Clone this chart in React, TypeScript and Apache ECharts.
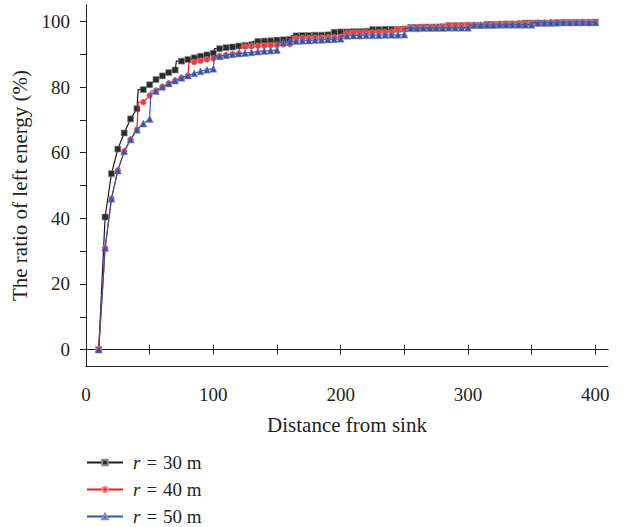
import React, { useEffect, useRef } from "react";
import * as echarts from "echarts";

const distances = [
  10, 15, 20, 25, 30, 35, 40, 45, 50, 55, 60, 65, 70, 75, 80, 85, 90, 95, 100,
  105, 110, 115, 120, 125, 130, 135, 140, 145, 150, 155, 160, 165, 170, 175, 180,
  185, 190, 195, 200, 205, 210, 215, 220, 225, 230, 235, 240, 245, 250, 255, 260,
  265, 270, 275, 280, 285, 290, 295, 300, 305, 310, 315, 320, 325, 330, 335, 340,
  345, 350, 355, 360, 365, 370, 375, 380, 385, 390, 395, 400,
];

const r30 = [
  0, 40.4, 53.6, 61.1, 66.0, 70.3, 73.4, 79.2, 80.7, 82.3, 83.4, 84.4, 85.2, 87.9,
  88.4, 88.9, 89.4, 89.8, 90.3, 91.7, 92.0, 92.2, 92.5, 92.7, 92.9, 93.9, 94.0,
  94.1, 94.3, 94.4, 94.5, 95.6, 95.7, 95.7, 95.8, 95.8, 95.9, 96.7, 96.8, 96.8,
  96.9, 96.9, 97.0, 97.5, 97.5, 97.6, 97.6, 97.6, 97.7, 98.2, 98.2, 98.3, 98.3,
  98.3, 98.4, 98.7, 98.7, 98.7, 98.8, 98.8, 98.8, 99.1, 99.1, 99.1, 99.2, 99.2,
  99.2, 99.5, 99.5, 99.5, 99.5, 99.5, 99.6, 99.7, 99.7, 99.7, 99.7, 99.7, 99.8,
];

const r40 = [
  0, 31.0, 46.0, 54.6, 60.4, 64.0, 67.0, 75.4, 77.4, 78.9, 80.1, 81.1, 82.0, 82.8,
  83.5, 87.6, 88.0, 88.4, 88.7, 89.4, 89.7, 90.0, 90.2, 92.3, 92.4, 92.5, 92.6,
  92.7, 92.8, 93.0, 93.1, 94.8, 94.9, 94.9, 95.0, 95.0, 95.1, 95.1, 95.2, 96.4,
  96.5, 96.5, 96.6, 96.6, 96.7, 96.7, 96.8, 97.6, 97.7, 98.1, 98.1, 98.2, 98.2,
  98.2, 98.3, 98.8, 98.8, 98.8, 98.9, 98.9, 98.9, 98.9, 99.0, 99.3, 99.3, 99.3,
  99.4, 99.4, 99.4, 99.4, 99.4, 99.7, 99.7, 99.7, 99.7, 99.7, 99.8, 99.8, 99.8,
];

const r50 = [
  0, 31.0, 46.0, 54.6, 60.4, 64.0, 67.0, 68.9, 70.3, 78.8, 80.1, 81.1, 82.0, 82.8,
  83.5, 84.2, 84.8, 85.3, 85.6, 89.4, 89.7, 90.0, 90.2, 90.4, 90.6, 90.8, 91.0,
  91.1, 91.3, 93.6, 93.8, 94.0, 94.1, 94.2, 94.3, 94.4, 94.5, 94.6, 94.7, 95.6,
  95.7, 95.7, 95.8, 95.8, 95.8, 95.9, 95.9, 95.9, 96.0, 97.9, 97.9, 98.0, 98.0,
  98.0, 98.0, 98.1, 98.1, 98.1, 98.1, 98.9, 98.9, 98.9, 98.9, 99.0, 99.0, 99.0,
  99.0, 99.0, 99.0, 99.6, 99.6, 99.6, 99.6, 99.7, 99.7, 99.7, 99.7, 99.7, 99.7,
];

// distances after which the curve rises abruptly
const r30Jumps = [40, 70, 100, 130, 160, 190, 220, 250, 280, 310, 340, 370];
const r40Jumps = [40, 80, 120, 160, 200, 240, 280, 320, 360];
const r50Jumps = [50, 100, 150, 200, 250, 300, 350];

const seriesNames = ["r = 30 m", "r = 40 m", "r = 50 m"];
const yTicks = [0, 10, 20, 30, 40, 50, 60, 70, 80, 90, 100];
const yLabels = [0, 20, 40, 60, 80, 100];
const xTicks = [0, 50, 100, 150, 200, 250, 300, 350, 400];
const xLabels = [0, 100, 200, 300, 400];

const FONT = "'Liberation Serif', 'DejaVu Serif', serif";
const INK = "#231f20";

function buildData(vals: number[], jumps: number[]) {
  const out: any[] = [];
  distances.forEach((d, i) => {
    out.push({ value: [d, vals[i]] });
    if (jumps.includes(d) && i + 1 < vals.length) {
      out.push({ value: [d + 1, vals[i + 1]], symbol: "none" });
    }
  });
  return out;
}

export default function App() {
  const ref = useRef<HTMLDivElement>(null);
  useEffect(() => {
    document.body.style.margin = "0";
    if (!ref.current) return;
    const chart = echarts.init(ref.current, undefined, { renderer: "svg" });
    const axisLineStyle = { color: INK, width: 1 };
    const option: any = {
      animation: false,
      backgroundColor: "#ffffff",
      textStyle: { fontFamily: FONT, color: INK },
      grid: { left: 86, right: 20, top: 5, bottom: 161, containLabel: false },
      legend: {
        orient: "vertical",
        left: 86,
        top: 453,
        height: 74,
        itemWidth: 36,
        itemHeight: 7,
        itemGap: 8,
        padding: 0,
        data: seriesNames,
        formatter: (n: string) => {
          const parts = n.split(" = ");
          return "{i|r}{s|=}" + parts[1];
        },
        textStyle: {
          fontFamily: FONT,
          fontSize: 19,
          lineHeight: 18,
          color: INK,
          padding: [0, 0, 0, 5],
          rich: {
            i: { fontFamily: FONT, fontStyle: "italic", fontSize: 19, lineHeight: 18, color: INK },
            s: { fontFamily: FONT, fontSize: 19, lineHeight: 18, color: INK, padding: [0, 6, 0, 6] },
          },
        },
      },
      xAxis: [
        {
          type: "value",
          position: "bottom",
          offset: 6,
          min: 0,
          max: 410,
          name: "Distance from sink",
          nameLocation: "middle",
          nameGap: 42,
          nameTextStyle: { fontFamily: FONT, fontSize: 21, color: INK },
          axisLine: { show: true, lineStyle: axisLineStyle },
          axisTick: { show: true, inside: true, length: 5, customValues: xTicks, lineStyle: axisLineStyle },
          axisLabel: { show: true, customValues: xLabels, margin: 13, fontFamily: FONT, fontSize: 19, color: INK },
          splitLine: { show: false },
        },
        {
          type: "value",
          position: "top",
          min: 0,
          max: 410,
          axisLine: { show: true, lineStyle: axisLineStyle },
          axisTick: { show: true, inside: true, length: 5, customValues: xTicks, lineStyle: axisLineStyle },
          axisLabel: { show: false },
          splitLine: { show: false },
        },
        {
          type: "value",
          position: "bottom",
          offset: 0,
          min: 0,
          max: 410,
          axisLine: { show: true, lineStyle: axisLineStyle },
          axisTick: { show: false },
          axisLabel: { show: false },
          splitLine: { show: false },
        },
      ],
      yAxis: [
        {
          type: "value",
          position: "left",
          min: -5,
          max: 105,
          name: "The ratio of left energy (%)",
          nameLocation: "middle",
          nameGap: 52,
          nameTextStyle: { fontFamily: FONT, fontSize: 21, color: INK },
          axisLine: { show: true, lineStyle: axisLineStyle },
          axisTick: { show: true, inside: false, length: 6, customValues: yTicks, lineStyle: axisLineStyle },
          axisLabel: { show: true, customValues: yLabels, margin: 16, fontFamily: FONT, fontSize: 19, color: INK },
          splitLine: { show: false },
        },
        {
          type: "value",
          position: "right",
          min: -5,
          max: 105,
          axisLine: { show: true, lineStyle: axisLineStyle },
          axisTick: { show: true, inside: true, length: 6, customValues: yTicks, lineStyle: axisLineStyle },
          axisLabel: { show: false },
          splitLine: { show: false },
        },
      ],
      series: [
        {
          name: seriesNames[0],
          type: "line",
          xAxisIndex: 0,
          yAxisIndex: 0,
          data: buildData(r30, r30Jumps),
          symbol: "rect",
          symbolSize: 6,
          showAllSymbol: true,
          lineStyle: { color: "#1a1a1a", width: 1.2 },
          itemStyle: { color: "#2b2b2b", borderColor: "#8a8a8a", borderWidth: 0.6 },
          z: 2,
        },
        {
          name: seriesNames[1],
          type: "line",
          xAxisIndex: 0,
          yAxisIndex: 0,
          data: buildData(r40, r40Jumps),
          symbol: "circle",
          symbolSize: 6,
          showAllSymbol: true,
          lineStyle: { color: "#ed1c24", width: 1.2 },
          itemStyle: { color: "#ef3a3f", borderColor: "#f58a8c", borderWidth: 0.6 },
          z: 3,
        },
        {
          name: seriesNames[2],
          type: "line",
          xAxisIndex: 0,
          yAxisIndex: 0,
          data: buildData(r50, r50Jumps),
          symbol: "triangle",
          symbolSize: 7,
          showAllSymbol: true,
          lineStyle: { color: "#3a53a4", width: 1.2 },
          itemStyle: { color: "#3a53a4", borderColor: "#7f8fc6", borderWidth: 0.5 },
          z: 4,
        },
      ],
    };
    chart.setOption(option);
    return () => chart.dispose();
  }, []);
  return <div ref={ref} style={{ width: 628, height: 527 }} />;
}
